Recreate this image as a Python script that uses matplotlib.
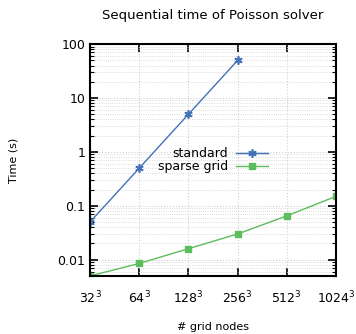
import numpy as np
import matplotlib.pyplot as plt
from matplotlib.ticker import FixedLocator, LogLocator, NullFormatter

nodes = [32, 64, 128, 256, 512, 1024]
tick_labels = ['$32^3$', '$64^3$', '$128^3$', '$256^3$', '$512^3$', '$1024^3$']
standard = [0.05, 0.5, 5.0, 50.0]
sparse = [0.005, 0.0085, 0.016, 0.03, 0.065, 0.15]

fig = plt.figure(figsize=(3.56, 3.34), dpi=100)
ax = fig.add_axes([0.253, 0.174, 0.691, 0.694])

ax.plot(nodes[:len(standard)], standard, color='#4472b9', lw=1.0,
        marker=(6, 2, 0), ms=6, mew=1.2, label='standard')
ax.plot(nodes, sparse, color='#5cbd5c', lw=1.0,
        marker='s', ms=4.5, label='sparse grid')

ax.set_xscale('log', base=2)
ax.set_yscale('log')
ax.set_xlim(32, 1024)
ax.set_ylim(0.005, 100)

ax.xaxis.set_major_locator(FixedLocator(nodes))
ax.set_xticklabels(tick_labels)
ax.xaxis.set_minor_locator(FixedLocator([]))
ax.yaxis.set_major_locator(LogLocator(base=10, numticks=10))
ax.yaxis.set_minor_locator(LogLocator(base=10, subs=np.arange(2, 10), numticks=20))
ax.yaxis.set_minor_formatter(NullFormatter())
ax.set_yticks([0.01, 0.1, 1, 10, 100])
ax.set_yticklabels(['0.01', '0.1', '1', '10', '100'])

ax.grid(True, which='major', color='#d0d0d0', ls=':', lw=0.8)
ax.grid(True, which='minor', axis='y', color='#d0d0d0', ls=':', lw=0.6)
ax.tick_params(which='both', direction='in', top=True, right=True, labelsize=9)
ax.tick_params(which='major', length=6, width=1.2)
ax.tick_params(which='minor', length=3, width=0.8)
ax.tick_params(axis='x', pad=10)
for s in ax.spines.values():
    s.set_linewidth(1.5)

ax.set_title('Sequential time of Poisson solver', fontsize=9.5, pad=18)
ax.set_xlabel('# grid nodes', fontsize=8, labelpad=11)
ax.set_ylabel('Time (s)', fontsize=8, labelpad=28)

ax.legend(loc='center', bbox_to_anchor=(0.5, 0.5), frameon=False, markerfirst=False,
          fontsize=9, handlelength=2.6, labelspacing=0.0, borderpad=0, handletextpad=0.6)

fig.savefig('out.png', dpi=100)
